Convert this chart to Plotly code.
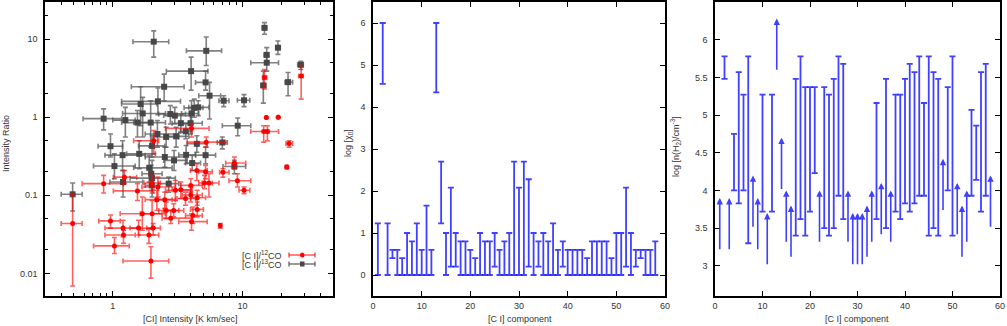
import plotly.graph_objects as go

# ─────────────────────────────────────────────────────────────
# Panel 1 — intensity ratio vs [C I] intensity
# ─────────────────────────────────────────────────────────────

# [C I]/13CO  (grey squares)
g_x   = [2.07, 5.26, 4.02, 2.49, 2.23, 1.64, 0.85, 1.25, 1.70, 1.96, 0.96, 1.03, 1.19, 1.20, 0.49, 1.60, 1.91, 2.01,
         2.01, 2.21, 2.58, 2.52, 2.97, 3.08, 2.78, 3.01, 3.35, 4.05, 3.98, 4.25, 4.56, 5.20, 5.58, 3.68, 4.10, 4.45,
         5.20, 2.70, 7.17, 10.3, 9.2, 7.0, 8.67, 14.8, 15.4, 15.4, 18.8, 14.5, 22.5, 28.2, 1.98, 2.0, 1.55, 3.66]
g_xlo = [1.43, 3.70, 2.59, 1.39, 1.17, 1.17, 0.59, 1.0, 1.19, 1.45, 0.77, 0.71, 0.87, 0.95, 0.40, 1.28, 1.45, 1.36,
         1.58, 1.78, 2.07, 1.78, 2.47, 2.55, 2.26, 2.47, 2.87, 3.39, 3.33, 3.55, 3.86, 4.35, 4.61, 3.23, 3.64, 3.75,
         4.35, 2.26, 6.59, 9.15, 7.0, 6.40, 7.08, 14.3, 14.7, 11.6, 18.1, 13.9, 21.3, 26.7, 1.68, 1.78, 1.17, 3.33]
g_xhi = [2.70, 6.91, 5.42, 3.55, 3.33, 2.19, 1.17, 1.49, 2.55, 2.55, 1.19, 1.49, 1.78, 1.70, 0.58, 2.13, 2.87, 3.04,
         2.52, 3.23, 3.23, 3.64, 3.75, 3.86, 3.64, 3.98, 4.10, 4.61, 4.90, 4.96, 5.52, 5.35, 6.79, 4.35, 4.75, 5.35,
         6.21, 3.23, 7.88, 11.4, 11.6, 7.65, 10.6, 15.4, 15.9, 19.0, 19.6, 15.2, 24.4, 29.5, 2.40, 2.26, 2.01, 4.10]
g_y   = [9.3, 7.1, 3.9, 2.46, 1.60, 1.48, 0.96, 0.92, 1.12, 0.855, 0.426, 0.237, 0.327, 0.148, 0.103, 0.34, 0.225,
         0.166, 0.43, 0.61, 0.56, 0.31, 0.28, 0.57, 1.10, 1.05, 0.84, 1.12, 0.84, 1.32, 1.34, 2.80, 1.89, 0.33, 0.259,
         0.457, 0.327, 0.141, 1.63, 1.65, 0.78, 0.475, 0.234, 14.0, 6.3, 5.0, 7.8, 2.56, 2.82, 4.7, 0.189, 0.134,
         0.855, 0.66]
g_ylo = [5.9, 4.6, 2.23, 1.63, 1.08, 0.78, 0.69, 0.56, 0.56, 0.414, 0.31, 0.163, 0.208, 0.095, 0.063, 0.219, 0.148,
         0.095, 0.31, 0.414, 0.414, 0.23, 0.208, 0.414, 0.82, 0.82, 0.64, 0.82, 0.61, 1.0, 1.05, 2.23, 0.95, 0.254,
         0.208, 0.357, 0.254, 0.11, 1.37, 1.37, 0.58, 0.394, 0.189, 11.6, 5.3, 3.9, 6.4, 1.52, 1.89, 4.1, 0.148,
         0.116, 0.56, 0.53]
g_yhi = [12.8, 10.7, 5.9, 3.57, 2.37, 2.46, 1.28, 1.34, 1.80, 1.63, 0.61, 0.34, 0.50, 0.208, 0.144, 0.50, 0.324,
         0.28, 0.58, 0.91, 0.745, 0.414, 0.375, 0.745, 1.41, 1.34, 1.10, 1.63, 1.10, 1.71, 1.63, 3.9, 2.80, 0.435,
         0.324, 0.58, 0.414, 0.171, 1.89, 1.95, 0.98, 0.56, 0.28, 16.3, 7.8, 6.1, 9.5, 3.9, 3.75, 5.2, 0.242, 0.155,
         1.22, 0.82]

# [C I]/12CO  (red circles)
r_x   = [0.49, 0.85, 0.96, 1.03, 1.20, 1.21, 1.23, 1.55, 1.58, 1.69, 1.90, 1.97, 2.01, 2.05, 2.19, 2.23, 2.52, 2.58,
         2.80, 2.95, 3.04, 3.35, 3.64, 4.0, 4.0, 4.05, 4.15, 4.48, 4.48, 4.45, 5.1, 5.20, 5.52, 5.26, 4.05, 2.07,
         7.08, 8.67, 9.15, 10.3, 6.75, 14.8, 28.4, 15.3, 18.9, 14.6, 15.6, 22.9, 22.0, 2.01]
r_xlo = [0.40, 0.58, 0.78, 0.71, 0.87, 0.87, 1.01, 1.01, 1.36, 1.14, 1.58, 1.20, 1.63, 1.83, 1.78, 1.68, 2.13, 2.26,
         2.40, 2.47, 2.55, 2.87, 3.13, 3.43, 3.33, 3.23, 3.64, 3.98, 3.98, 3.98, 4.61, 4.61, 4.90, 3.75, 2.55, 1.45,
         6.67, 7.43, 7.88, 9.42, 6.67, 14.3, 27.2, 15.1, 18.7, 11.6, 15.2, 21.7, 21.7, 1.74]
r_xhi = [0.58, 1.21, 1.14, 1.34, 1.58, 1.49, 1.53, 2.07, 2.01, 2.40, 2.26, 2.70, 2.55, 2.33, 2.87, 3.04, 3.04, 3.23,
         4.10, 3.53, 3.98, 4.10, 4.35, 4.90, 4.90, 5.35, 4.90, 5.0, 5.20, 5.35, 5.85, 5.85, 6.59, 7.43, 5.52, 2.26,
         7.88, 10.6, 11.6, 11.4, 6.84, 15.4, 29.5, 15.5, 19.1, 19.0, 16.0, 24.4, 22.4, 2.33]
r_y   = [0.0435, 0.141, 0.047, 0.0225, 0.038, 0.031, 0.171, 0.114, 0.038, 0.058, 0.031, 0.0144, 0.058, 0.038, 0.088,
         0.128, 0.088, 0.064, 0.051, 0.064, 0.116, 0.118, 0.091, 0.101, 0.134, 0.046, 0.055, 0.066, 0.093, 0.208,
         0.144, 0.20, 0.144, 0.48, 0.72, 0.50, 0.197, 0.26, 0.154, 0.116, 0.041, 3.24, 3.37, 0.99, 1.0, 0.656, 0.656,
         0.46, 0.23, 0.144]
r_ylo = [0.0069, 0.107, 0.038, 0.018, 0.0294, 0.0242, 0.141, 0.086, 0.031, 0.0357, 0.0242, 0.0087, 0.037, 0.031,
         0.064, 0.095, 0.068, 0.05, 0.0435, 0.053, 0.086, 0.091, 0.0745, 0.082, 0.11, 0.0357, 0.0435, 0.053, 0.0745,
         0.155, 0.122, 0.163, 0.095, 0.414, 0.56, 0.34, 0.171, 0.219, 0.128, 0.105, 0.038, 2.30, 1.71, 0.97, 0.98,
         0.48, 0.50, 0.414, 0.22, 0.107]
r_yhi = [0.102, 0.18, 0.056, 0.0288, 0.048, 0.0357, 0.208, 0.141, 0.048, 0.095, 0.037, 0.0219, 0.086, 0.0435, 0.116,
         0.171, 0.11, 0.082, 0.064, 0.078, 0.155, 0.148, 0.11, 0.128, 0.163, 0.058, 0.071, 0.082, 0.116, 0.254, 0.18,
         0.242, 0.189, 0.56, 0.82, 0.675, 0.219, 0.31, 0.189, 0.128, 0.0435, 4.1, 4.6, 1.01, 1.02, 0.78, 0.78, 0.50,
         0.24, 0.18]

# ─────────────────────────────────────────────────────────────
# Panel 2 — log chi_0 range per [C I] component
# ─────────────────────────────────────────────────────────────
components = list(range(1, 59))
chi_lo = [0, 4.55, 0, 0.4, 0, 0, 0, 0, 0, 0, 0, 0,
          4.35, 1.23, 0, 0.2, 0.2, 0, 0, 0, 0, 0, 0, 0,
          0.2, 0, 0, 0, 0, 0, 0, 0.2, 0, 0.2, 0, 0,
          0, 0, 0.2, 0, 0, 0, 0, 0, 0, 0, 0, 0,
          0, 0, 0, 0.2, 0, 0.2, 0.4, 0, 0, 0]
chi_hi = [1.23, 6.0, 1.23, 0.6, 0.6, 0.4, 1.0, 0.8, 1.23, 0.6, 1.65, 0.6,
          6.0, 2.7, 1.0, 2.08, 1.0, 0.8, 0.8, 0.6, 0.4, 1.0, 0.8, 0.8,
          1.0, 0.6, 0.8, 1.0, 2.7, 2.08, 2.7, 2.28, 1.0, 0.8, 1.0, 0.8,
          1.23, 0.6, 0.8, 0.6, 0.6, 0.6, 0.6, 0.4, 0.8, 0.8, 0.8, 0.8,
          0.4, 1.0, 1.0, 2.08, 1.0, 0.6, 0.6, 0.6, 0.6, 0.8]

# ─────────────────────────────────────────────────────────────
# Panel 3 — log n(H2) range (bars) and lower limits (arrows)
# ─────────────────────────────────────────────────────────────
nh_comp = [2, 4, 5, 6, 7, 10, 12, 17, 18, 19, 20, 21, 23, 24, 25, 26, 27, 34,
           36, 38, 39, 40, 41, 42, 43, 44, 45, 46, 47, 49, 50, 54, 55, 56, 57]
nh_lo   = [5.48, 4.0, 3.83, 4.0, 3.3, 3.72, 3.72, 3.4, 3.62, 3.4, 3.72, 4.23, 3.5, 3.4, 3.5, 3.93, 3.62, 3.62,
           3.5, 3.72, 3.62, 3.83, 3.72, 3.83, 3.93, 3.93, 3.4, 3.5, 3.4, 4.0, 3.4, 3.93, 4.14, 3.72, 3.93]
nh_hi   = [5.78, 4.75, 5.57, 5.27, 5.78, 5.27, 5.27, 5.48, 5.78, 5.37, 5.37, 5.37, 5.37, 5.27, 5.48, 5.78, 5.68, 5.16,
           5.48, 5.27, 5.27, 5.48, 5.68, 5.57, 5.78, 5.16, 5.78, 5.57, 5.48, 5.37, 5.78, 5.07, 4.86, 5.57, 5.68]
lim_comp = [1, 3, 8, 9, 11, 13, 14, 15, 16, 22, 28, 29, 30, 31, 32, 33, 35, 37, 48, 51, 52, 53, 58]
lim_lo   = [3.2, 3.2, 3.5, 3.2, 3.0, 5.58, 4.0, 3.3, 3.1, 3.3, 3.3, 3.0, 3.0, 3.0, 3.1, 3.3, 3.4, 3.3, 3.72,
            3.4, 3.1, 3.3, 3.5]
ARROW_LEN = 0.7   # drawn length of a lower-limit arrow (style)

# ─────────────────────────────────────────────────────────────
W, H = 1007, 326
FONT = "Liberation Sans, Arial, sans-serif"
TXT = "#333"
BLUE = "rgba(30,30,255,0.85)"
GREY_BAR = "rgba(85,85,85,0.75)"
RED_BAR = "rgba(255,0,0,0.62)"

fig = go.Figure()

fig.add_trace(go.Scatter(
    x=g_x, y=g_y, mode="markers", xaxis="x", yaxis="y",
    marker=dict(symbol="square", size=6, color="#474747"),
    error_x=dict(type="data", symmetric=False,
                 array=[h - v for h, v in zip(g_xhi, g_x)],
                 arrayminus=[v - l for v, l in zip(g_x, g_xlo)],
                 color=GREY_BAR, thickness=1.6, width=2.5),
    error_y=dict(type="data", symmetric=False,
                 array=[h - v for h, v in zip(g_yhi, g_y)],
                 arrayminus=[v - l for v, l in zip(g_y, g_ylo)],
                 color=GREY_BAR, thickness=1.6, width=2.5),
))
fig.add_trace(go.Scatter(
    x=r_x, y=r_y, mode="markers", xaxis="x", yaxis="y",
    marker=dict(symbol="circle", size=5, color="#ff0000"),
    error_x=dict(type="data", symmetric=False,
                 array=[h - v for h, v in zip(r_xhi, r_x)],
                 arrayminus=[v - l for v, l in zip(r_x, r_xlo)],
                 color=RED_BAR, thickness=1.6, width=2.5),
    error_y=dict(type="data", symmetric=False,
                 array=[h - v for h, v in zip(r_yhi, r_y)],
                 arrayminus=[v - l for v, l in zip(r_y, r_ylo)],
                 color=RED_BAR, thickness=1.6, width=2.5),
))

# panel 2 range bars
fig.add_trace(go.Scatter(
    x=components, y=[(a + b) / 2 for a, b in zip(chi_lo, chi_hi)],
    mode="markers", xaxis="x2", yaxis="y2",
    marker=dict(size=1, color="rgba(0,0,0,0)"),
    error_y=dict(type="data", array=[(b - a) / 2 for a, b in zip(chi_lo, chi_hi)],
                 color=BLUE, thickness=1.8, width=3),
))

# panel 3 range bars
fig.add_trace(go.Scatter(
    x=nh_comp, y=[(a + b) / 2 for a, b in zip(nh_lo, nh_hi)],
    mode="markers", xaxis="x3", yaxis="y3",
    marker=dict(size=1, color="rgba(0,0,0,0)"),
    error_y=dict(type="data", array=[(b - a) / 2 for a, b in zip(nh_lo, nh_hi)],
                 color=BLUE, thickness=1.8, width=3),
))

annotations = []
# panel 3 lower-limit arrows
for c, lo in zip(lim_comp, lim_lo):
    annotations.append(dict(
        x=c, y=lo + ARROW_LEN, ax=c, ay=lo, xref="x3", yref="y3", axref="x3", ayref="y3",
        text="", showarrow=True, arrowhead=2, arrowsize=0.8, arrowwidth=1.6, arrowcolor=BLUE, standoff=0,
    ))


def px(xp):
    return xp / W


def py(yp):
    return 1 - yp / H


def title(text, x, y, angle=0):
    annotations.append(dict(text=text, x=px(x), y=py(y), xref="paper", yref="paper",
                            showarrow=False, textangle=angle, xanchor="center", yanchor="middle",
                            font=dict(family=FONT, size=9, color=TXT)))


title("[CI] Intensity [K km/sec]", 190, 319)
title("Intensity Ratio", 6, 144, -90)
title("[C I] component", 520, 319)
title("log [χ<sub>0</sub>]", 348, 143, -90)
title("[C I] component", 857, 319)
title("log [n(H<sub>2</sub>)/cm<sup>-3</sup>]", 675, 147, -90)

# legend of panel 1 (text left, sample right, as in the reference)
shapes = []
for i, (lab, col, bar) in enumerate([("[C I]/<sup>12</sup>CO", "#ff0000", RED_BAR),
                                     ("[C I]/<sup>13</sup>CO", "#474747", GREY_BAR)]):
    yy = 255 + 9 * i
    annotations.append(dict(text=lab, x=px(284), y=py(yy), xref="paper", yref="paper", showarrow=False,
                            xanchor="right", yanchor="middle", font=dict(family=FONT, size=9, color=TXT)))
    shapes.append(dict(type="line", xref="paper", yref="paper", x0=px(289), x1=px(315), y0=py(yy), y1=py(yy),
                       line=dict(color=bar, width=1.6)))
    for xe in (289, 315):
        shapes.append(dict(type="line", xref="paper", yref="paper", x0=px(xe), x1=px(xe),
                           y0=py(yy - 2.5), y1=py(yy + 2.5), line=dict(color=bar, width=1.6)))
    shapes.append(dict(type="circle" if i == 0 else "rect", xref="paper", yref="paper",
                       x0=px(300), x1=px(304.5), y0=py(yy - 2.5), y1=py(yy + 2.5),
                       fillcolor=col, line=dict(width=0)))

axis_common = dict(showline=True, linecolor="black", linewidth=1.5, mirror="allticks", ticks="inside",
                   ticklen=5, tickcolor="black", showgrid=False, zeroline=False, automargin=False,
                   tickfont=dict(family=FONT, size=9, color=TXT))
ydom = [1 - 296 / H, 1 - 2 / H]

fig.update_layout(
    template="none",
    width=W, height=H, margin=dict(l=0, r=0, t=0, b=0, pad=0),
    paper_bgcolor="white", plot_bgcolor="white", showlegend=False,
    xaxis=dict(axis_common, type="log", range=[-0.523, 1.699], domain=[45 / W, 333 / W], anchor="y",
               tickmode="array", tickvals=[1, 10], ticktext=["1", "10"],
               minor=dict(tickmode="array", ticks="inside", ticklen=3, tickcolor="black",
                          tickvals=[0.3, 0.4, 0.5, 0.6, 0.7, 0.8, 0.9, 2, 3, 4, 5, 6, 7, 8, 9, 20, 30, 40])),
    yaxis=dict(axis_common, type="log", range=[-2.29, 1.477], domain=ydom, anchor="x",
               tickmode="array", tickvals=[0.01, 0.1, 1, 10], ticktext=["0.01", "0.1", "1", "10"],
               ticklabelstandoff=4,
               minor=dict(tickmode="array", ticks="inside", ticklen=3, tickcolor="black",
                          tickvals=[0.02, 0.05, 0.2, 0.5, 2, 5, 20])),
    xaxis2=dict(axis_common, range=[0, 60], dtick=10, domain=[373 / W, 665 / W], anchor="y2"),
    yaxis2=dict(axis_common, range=[-0.5, 6.5], dtick=1, domain=ydom, anchor="x2", ticklabelstandoff=4),
    xaxis3=dict(axis_common, range=[0, 60], dtick=10, domain=[715 / W, 1000 / W], anchor="y3"),
    yaxis3=dict(axis_common, range=[2.6, 6.5], tickmode="array", tickvals=[3, 3.5, 4, 4.5, 5, 5.5, 6],
                ticktext=["3", "3.5", "4", "4.5", "5", "5.5", "6"], domain=ydom, anchor="x3",
                ticklabelstandoff=4),
    annotations=annotations,
    shapes=shapes,
)

# the page's default 8px body margin would shift the whole figure
fig.write_html("out.html", config={"displayModeBar": False},
               post_script="document.body.style.margin='0px';document.body.style.overflow='hidden';")
